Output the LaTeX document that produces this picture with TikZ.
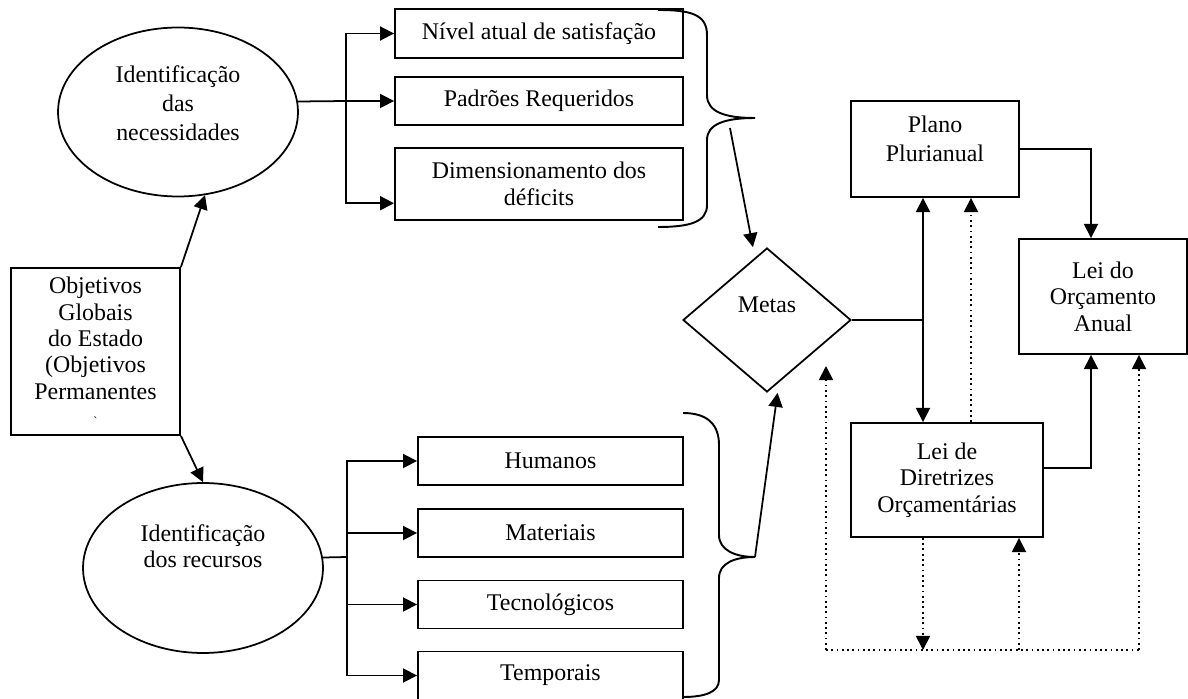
\documentclass[tikz,border=0pt]{standalone}
\usepackage{fontspec}
\setmainfont{Liberation Serif}
\usetikzlibrary{arrows.meta, shapes.geometric, calc}

\begin{document}
\begin{tikzpicture}[x=0.02cm, y=-0.02cm,
        every node/.style={font=\fontsize{13.6}{15}\selectfont},
        rbox/.style={draw, line width=1.1pt, inner sep=0pt, align=center},
        elip/.style={ellipse, draw, line width=1pt, minimum width=4.8cm, minimum height=3.38cm, inner sep=0pt},
        txt/.style={align=center, inner sep=0pt},
        conn/.style={line width=1pt},
        arr/.style={conn, -{Triangle[length=8pt, width=8pt]}},
        dbl/.style={conn, {Triangle[length=8pt, width=8pt]}-{Triangle[length=8pt, width=8pt]}},
        dotarr/.style={conn, dotted, -{Triangle[length=8pt, width=8pt]}},
        brc/.style={line width=1.1pt}
      ]
        \useasboundingbox (0,0) rectangle (1188,699);
        \node[rbox, minimum width=3.38cm, minimum height=3.34cm] (objet) at (95.5,351.5) {Objetivos\\Globais\\do Estado\\(Objetivos\\Permanentes\\{\scriptsize\textasciigrave}};
        \node[elip] (necess) at (178,112) {};
        \node[txt] (necesstxt) at (178,103.5) {Identificação\\[1.5pt]das\\[1.5pt]necessidades};
        \node[elip, minimum height=3.4cm] (recurs) at (203,568) {};
        \node[txt] (recurstxt) at (203,546) {Identificação\\dos recursos};
        \node[rbox, minimum width=5.76cm, minimum height=0.98cm] (nivel) at (539,33.5) {Nível atual de satisfação};
        \node[rbox, minimum width=5.76cm, minimum height=0.96cm] (padroes) at (539,101) {Padrões Requeridos};
        \node[rbox, minimum width=5.76cm, minimum height=1.44cm] (dimens) at (539,184) {Dimensionamento dos\\déficits};
        \foreach \n/\t/\y in {humanos/Humanos/461, materiais/Materiais/533, tecnol/Tecnológicos/604.5, tempor/Temporais/675.5}
          { \node[rbox, minimum width=5.3cm, minimum height=0.96cm] (\n) at (550.5,\y) {\t}; }
        \node[diamond, draw, line width=1pt, minimum width=3.36cm, minimum height=2.88cm, inner sep=0pt] (metas) at (767,320) {};
        \node[txt] (metastxt) at (767,305) {Metas};
        \node[rbox, minimum width=3.36cm, minimum height=1.92cm] (plano) at (935,149) {};
        \node[txt] (planotxt) at (935,139) {Plano\\[1.5pt]Plurianual};
        \node[rbox, minimum width=3.36cm, minimum height=2.3cm] (loa) at (1103,296.5) {Lei do\\Orçamento\\Anual};
        \node[rbox, minimum width=3.84cm, minimum height=2.28cm] (ldo) at (947,480) {Lei de\\Diretrizes\\Orçamentárias};

        \coordinate (busA) at (346,101);
        \coordinate (busB) at (347,557);
        \coordinate (braceA) at (730,128);
        \coordinate (braceB) at (755,557);
        \coordinate (jct) at (923,320);
        \coordinate (xr) at (1091,0);
        \coordinate (xd) at (971,0);
        \coordinate (dl) at (826,650);
        \coordinate (dm) at (1019,650);
        \coordinate (dr) at (1139,650);
        \coordinate (freeup) at (826,366);

        \draw[arr] (objet.north east) -- (necess.-72);
        \draw[arr] (objet.south east) -- (recurs.north);
        \draw[conn] (necess.5) -- (busA);
        \draw[arr] (busA) |- (nivel.west);
        \draw[arr] (busA) -- (padroes.west);
        \draw[arr] (busA) |- ($(dimens.south west)!.24!(dimens.north west)$);
        \draw[conn] (recurs.5) -- (busB);
        \foreach \n in {humanos, materiais, tecnol, tempor} { \draw[arr] (busB) |- (\n.west); }

        % chaves
        \draw[brc] (658,10) .. controls (690,10) and (707,14) .. (707,35) -- (707,95)
          .. controls (707,112) and (725,118) .. (755,118)
          .. controls (725,118) and (707,124) .. (707,140) -- (707,205)
          .. controls (707,222) and (690,227) .. (658,227);
        \draw[brc] (683,413) .. controls (708,413) and (719,425) .. (719,445) -- (719,535)
          .. controls (719,550) and (735,557) .. (755,557)
          .. controls (735,557) and (719,563) .. (719,578) -- (719,680)
          .. controls (719,692) and (705,697) .. (683,697);
        \draw[arr] (braceA) -- ([xshift=-8pt]metas.north);
        \draw[arr] (braceB) -- ([xshift=6pt]metas.south);

        \draw[conn] (metas.east) -- (jct);
        \draw[dbl] (plano.south -| jct) -- (ldo.north -| jct);
        \draw[arr] (plano.east) -| (loa.north -| xr);
        \draw[arr] ([yshift=7pt]ldo.east) -| (loa.south -| xr);

        \draw[dotarr] (ldo.north -| xd) -- (plano.south -| xd);
        \draw[dotarr] (ldo.south -| jct) -- (jct |- dl);
        \draw[conn, dotted] (dl) -- (dr);
        \draw[dotarr] (dl) -- (freeup);
        \draw[dotarr] (dm) -- (ldo.south -| dm);
        \draw[dotarr] (dr) -- (loa.south -| dr);
      \end{tikzpicture}
\end{document}
